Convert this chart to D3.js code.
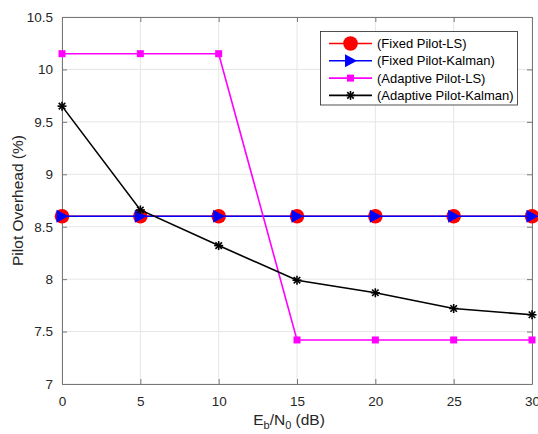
<!DOCTYPE html>
<html><head><meta charset="utf-8">
<script src="https://cdn.jsdelivr.net/npm/d3@7"></script>
<style>body{margin:0;background:#fff;} svg{display:block;font-family:"Liberation Sans",Arial,sans-serif;}</style>
</head><body>
<script>
const snr = [0, 5, 10, 15, 20, 25, 30];
const fixedLS = [8.6, 8.6, 8.6, 8.6, 8.6, 8.6, 8.6];
const fixedKalman = [8.6, 8.6, 8.6, 8.6, 8.6, 8.6, 8.6];
const adaptiveLS = [10.15, 10.15, 10.15, 7.42, 7.42, 7.42, 7.42];
const adaptiveKalman = [9.65, 8.66, 8.32, 7.99, 7.87, 7.72, 7.66];
const xTicks = [0, 5, 10, 15, 20, 25, 30];
const yTicks = [7, 7.5, 8, 8.5, 9, 9.5, 10, 10.5];
const legendLabels = ["(Fixed Pilot-LS)", "(Fixed Pilot-Kalman)", "(Adaptive Pilot-LS)", "(Adaptive Pilot-Kalman)"];

const W = 538, H = 434;
const L = 62, R = 532, T = 17, B = 384;
const svg = d3.select("body").append("svg").attr("width", W).attr("height", H);
const x = d3.scaleLinear().domain([0, 30]).range([L, R]);
const y = d3.scaleLinear().domain([7, 10.5]).range([B, T]);

// grid
svg.append("g").selectAll("line").data(xTicks).join("line")
  .attr("x1", d => x(d)).attr("x2", d => x(d)).attr("y1", T).attr("y2", B)
  .attr("stroke", "#e6e6e6").attr("stroke-width", 1);
svg.append("g").selectAll("line").data(yTicks).join("line")
  .attr("y1", d => y(d)).attr("y2", d => y(d)).attr("x1", L).attr("x2", R)
  .attr("stroke", "#e6e6e6").attr("stroke-width", 1);

// axes
const axCol = "#777";
const gx = svg.append("g").attr("transform", `translate(0,${B})`)
  .call(d3.axisBottom(x).tickValues(xTicks).tickSizeInner(-5).tickSizeOuter(0).tickPadding(12));
const gy = svg.append("g").attr("transform", `translate(${L},0)`)
  .call(d3.axisLeft(y).tickValues(yTicks).tickSizeInner(-5).tickSizeOuter(0).tickPadding(9).tickFormat(d3.format("~g")));
const gx2 = svg.append("g").attr("transform", `translate(0,${T})`)
  .call(d3.axisTop(x).tickValues(xTicks).tickSizeInner(-5).tickSizeOuter(0).tickFormat(""));
const gy2 = svg.append("g").attr("transform", `translate(${R},0)`)
  .call(d3.axisRight(y).tickValues(yTicks).tickSizeInner(-5).tickSizeOuter(0).tickFormat(""));
[gx, gy, gx2, gy2].forEach(g => {
  g.selectAll("path").attr("stroke", axCol);
  g.selectAll("line").attr("stroke", axCol);
  g.selectAll("text").attr("fill", "#262626").style("font-size", "13.5px").style("font-family", '"Liberation Sans",Arial,sans-serif');
});

const line = d3.line().x((d, i) => x(snr[i])).y(d => y(d));

function drawLine(data, color) {
  svg.append("path").datum(data).attr("d", line).attr("fill", "none")
    .attr("stroke", color).attr("stroke-width", 1.6);
}
const circ = (g, cx, cy) => g.append("circle").attr("cx", cx).attr("cy", cy).attr("r", 7.3).attr("fill", "#ff0000");
const tri = (g, cx, cy) => g.append("path").attr("d", `M${cx-5.5},${cy-6.5}L${cx+6.5},${cy}L${cx-5.5},${cy+6.5}Z`).attr("fill", "#0000ff");
const sq = (g, cx, cy) => g.append("rect").attr("x", cx-3.5).attr("y", cy-3.5).attr("width", 7).attr("height", 7).attr("fill", "#ff00ff");
const star = (g, cx, cy) => {
  const r = 4.5;
  const p = [[-r,0,r,0],[0,-r,0,r],[-r*0.72,-r*0.72,r*0.72,r*0.72],[-r*0.72,r*0.72,r*0.72,-r*0.72]];
  p.forEach(q => g.append("line").attr("x1", cx+q[0]).attr("y1", cy+q[1]).attr("x2", cx+q[2]).attr("y2", cy+q[3]).attr("stroke", "#000").attr("stroke-width", 1.6));
};
const series = [
  {data: fixedLS, color: "#ff0000", mk: circ},
  {data: fixedKalman, color: "#0000ff", mk: tri},
  {data: adaptiveLS, color: "#ff00ff", mk: sq},
  {data: adaptiveKalman, color: "#000000", mk: star}
];
series.forEach(s => {
  drawLine(s.data, s.color);
  const g = svg.append("g");
  s.data.forEach((v, i) => s.mk(g, x(snr[i]), y(v)));
});

// legend
const lg = svg.append("g");
lg.append("rect").attr("x", 320.5).attr("y", 31.5).attr("width", 197).attr("height", 73.5)
  .attr("fill", "#fff").attr("stroke", "#262626").attr("stroke-width", 0.8);
legendLabels.forEach((t, i) => {
  const yy = 43.5 + i * 17.3;
  lg.append("line").attr("x1", 329).attr("x2", 372).attr("y1", yy).attr("y2", yy)
    .attr("stroke", series[i].color).attr("stroke-width", 1.6);
  series[i].mk(lg, 350.5, yy);
  lg.append("text").attr("x", 377).attr("y", yy + 4.5).text(t)
    .style("font-size", "13px").attr("fill", "#000");
});

// axis labels
const xl = svg.append("text").attr("x", 289).attr("y", 425).attr("text-anchor", "middle")
  .style("font-size", "15.5px").attr("fill", "#262626");
xl.append("tspan").text("E");
xl.append("tspan").text("b").attr("dy", 4).style("font-size", "11px");
xl.append("tspan").text("/N").attr("dy", -4);
xl.append("tspan").text("0").attr("dy", 4).style("font-size", "11px");
xl.append("tspan").text(" (dB)").attr("dy", -4);

svg.append("text").attr("transform", `translate(23,${(T+B)/2}) rotate(-90)`)
  .attr("text-anchor", "middle").style("font-size", "15.5px").attr("fill", "#262626")
  .text("Pilot Overhead (%)");
</script>
</body></html>
